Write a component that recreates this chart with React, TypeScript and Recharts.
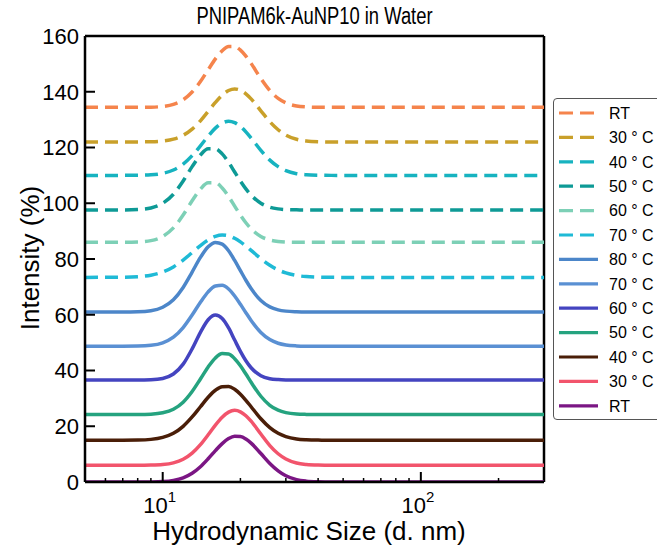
import React from "react";
import { LineChart, Line, XAxis, YAxis, ReferenceLine } from "recharts";

// hydrodynamic size grid (d. nm)
const sizes = [5, 7, 8, 9, 10, 11, 12, 13, 14, 15, 16, 17, 18, 19, 20, 21, 22, 24, 26, 28, 30, 33, 36, 40, 45, 50, 300];

// intensity (%) per run (before vertical offset)
const rtDash = [0, 0, 0.01, 0.07, 0.33, 1.08, 2.73, 5.52, 9.26, 13.49, 17.4, 20.29, 21.81, 21.81, 20.55, 18.4, 15.78, 10.35, 6.03, 3.24, 1.62, 0.52, 0.16, 0.03, 0, 0, 0];
const c30Dash = [0, 0, 0.01, 0.08, 0.33, 0.99, 2.37, 4.6, 7.56, 10.94, 14.17, 16.77, 18.43, 19.0, 18.53, 17.25, 15.45, 11.17, 7.25, 4.37, 2.47, 0.95, 0.35, 0.08, 0, 0, 0];
const c40Dash = [0, 0, 0.04, 0.2, 0.73, 1.92, 4.05, 7.08, 10.59, 14.08, 16.95, 18.76, 19.4, 18.89, 17.53, 15.6, 13.4, 8.99, 5.48, 3.13, 1.69, 0.61, 0.22, 0.05, 0, 0, 0];
const c50Dash = [0, 0.01, 0.14, 0.71, 2.39, 5.64, 10.38, 15.54, 19.7, 21.93, 21.93, 20.11, 17.1, 13.61, 10.38, 7.57, 5.33, 2.39, 0.97, 0.38, 0.14, 0.03, 0, 0, 0, 0, 0];
const c60Dash = [0, 0.01, 0.11, 0.59, 2.1, 5.15, 9.75, 14.87, 19.06, 21.32, 21.32, 19.48, 16.44, 12.96, 9.75, 7.01, 4.86, 2.1, 0.82, 0.3, 0.11, 0.02, 0, 0, 0, 0, 0];
const c70Dash = [0, 0.05, 0.25, 0.8, 1.95, 3.77, 6.2, 8.9, 11.42, 13.44, 14.72, 15.2, 14.93, 14.03, 12.76, 11.27, 9.7, 6.72, 4.34, 2.69, 1.6, 0.69, 0.29, 0.09, 0.02, 0, 0];
const c80 = [0, 0.01, 0.08, 0.45, 1.69, 4.38, 8.81, 14.32, 19.57, 23.37, 24.96, 24.33, 21.94, 18.48, 14.83, 11.37, 8.39, 4.11, 1.82, 0.76, 0.3, 0.07, 0, 0, 0, 0, 0];
const c70 = [0, 0.01, 0.06, 0.33, 1.23, 3.24, 6.69, 11.19, 15.78, 19.52, 21.63, 21.89, 20.55, 18.04, 15.07, 12.04, 9.26, 4.94, 2.38, 1.08, 0.46, 0.12, 0.02, 0, 0, 0, 0];
const c60 = [0, 0, 0, 0.09, 0.56, 2.13, 5.68, 11.16, 17.1, 21.62, 23.3, 22.04, 18.66, 14.32, 10.27, 6.9, 4.39, 1.53, 0.46, 0.13, 0.03, 0, 0, 0, 0, 0, 0];
const c50 = [0, 0, 0.02, 0.14, 0.63, 1.91, 4.44, 8.26, 12.76, 17.09, 20.31, 21.86, 21.7, 20.03, 17.49, 14.53, 11.58, 6.56, 3.32, 1.56, 0.69, 0.18, 0.05, 0, 0, 0, 0];
const c40 = [0, 0.01, 0.06, 0.29, 0.99, 2.47, 4.97, 8.33, 12.0, 15.4, 17.91, 19.21, 19.28, 18.25, 16.49, 14.31, 12.0, 7.69, 4.5, 2.47, 1.29, 0.44, 0.15, 0.03, 0, 0, 0];
const c30 = [0, 0, 0, 0.06, 0.26, 0.86, 2.15, 4.36, 7.39, 10.94, 14.43, 17.24, 19.08, 19.7, 19.18, 17.78, 15.81, 11.2, 7.07, 4.13, 2.25, 0.81, 0.28, 0.06, 0, 0, 0];
const rt = [0, 0, 0, 0.04, 0.17, 0.58, 1.5, 3.14, 5.49, 8.34, 11.26, 13.78, 15.59, 16.44, 16.32, 15.42, 13.96, 10.22, 6.66, 4.0, 2.23, 0.84, 0.3, 0.07, 0, 0, 0];

const curves = [rtDash, c30Dash, c40Dash, c50Dash, c60Dash, c70Dash, c80, c70, c60, c50, c40, c30, rt];
const labels = ["RT", "30 ° C", "40 ° C", "50 ° C", "60 ° C", "70 ° C", "80 ° C", "70 ° C", "60 ° C", "50 ° C", "40 ° C", "30 ° C", "RT"];
const offsets = [134.4, 122, 110, 97.6, 86, 73.4, 61, 48.7, 36.6, 24.2, 15, 6, 0];
const colors = ["#f5844c", "#c9a02a", "#17b3c0", "#0e9a96", "#7dd0b6", "#1fbad6", "#4c86c9", "#5a90d3", "#4444c0", "#25a37f", "#4a1e08", "#f2546c", "#7b1684"];
const dashed = [true, true, true, true, true, true, false, false, false, false, false, false, false];

const xTicks = [6, 7, 8, 9, 10, 20, 30, 40, 50, 60, 70, 80, 90, 100, 200];
const yTicks = [0, 20, 40, 60, 80, 100, 120, 140, 160];

const data = sizes.map((s, i) => {
  const row: any = { size: s };
  curves.forEach((c, k) => {
    row["c" + k] = +(c[i] + offsets[k]).toFixed(2);
  });
  return row;
});

const FONT = "'Liberation Sans', Arial, sans-serif";

function XTick(props: any) {
  const { x, y, payload } = props;
  const v = payload.value;
  const major = v === 10 || v === 100;
  return (
    <g>
      <line x1={x} x2={x} y1={y} y2={y - (major ? 10 : 4)} stroke="#000" strokeWidth={major ? 2 : 1.5} />
      {major && (
        <text x={x - 3} y={y + 31} textAnchor="middle" fontSize={22} fontFamily={FONT} fill="#000">
          10
          <tspan dy={-11} fontSize={15}>{v === 10 ? "1" : "2"}</tspan>
        </text>
      )}
    </g>
  );
}

function YTick(props: any) {
  const { x, y, payload } = props;
  return (
    <g>
      <line x1={x} x2={x + 10} y1={y} y2={y} stroke="#000" strokeWidth={2} />
      <text x={x - 6} y={y} dy="0.36em" textAnchor="end" fontSize={22} fontFamily={FONT} fill="#000">
        {payload.value}
      </text>
    </g>
  );
}

function LegendBox() {
  const rowH = 24.4;
  return (
    <div
      style={{
        position: "absolute",
        left: 553,
        top: 98,
        width: 120,
        height: 320,
        border: "1.5px solid #555",
        borderRadius: 4,
        background: "#fff",
      }}
    >
      <svg width={120} height={320}>
        {labels.map((lab, k) => {
          const cy = 14 + k * rowH;
          return (
            <g key={k}>
              <line
                x1={5}
                x2={44}
                y1={cy}
                y2={cy}
                stroke={colors[k]}
                strokeWidth={3.2}
                strokeDasharray={dashed[k] ? "14 7" : undefined}
              />
              <text x={55} y={cy} dy="0.36em" fontSize={16} fontFamily={FONT} fill="#000">
                {lab}
              </text>
            </g>
          );
        })}
      </svg>
    </div>
  );
}

export default function App() {
  return (
    <div style={{ position: "absolute", left: 0, top: 0, width: 657, height: 546, fontFamily: FONT, background: "#fff", overflow: "hidden" }}>
      <div
        style={{
          position: "absolute",
          left: 85,
          top: 2,
          width: 459,
          textAlign: "center",
          fontSize: 23,
          lineHeight: "28px",
          color: "#000",
          transform: "scaleX(0.8)",
        }}
      >
        PNIPAM6k-AuNP10 in Water
      </div>
      <LineChart width={657} height={546} data={data} margin={{ top: 36, right: 113, left: 0, bottom: 0 }}>
        <XAxis
          dataKey="size"
          type="number"
          scale="log"
          domain={[5, 300]}
          allowDataOverflow
          ticks={xTicks}
          interval={0}
          tick={<XTick />}
          tickLine={false}
          tickSize={0}
          tickMargin={0}
          height={64}
          axisLine={{ stroke: "#000", strokeWidth: 2.5 }}
        />
        <YAxis
          type="number"
          domain={[0, 160]}
          ticks={yTicks}
          interval={0}
          tick={<YTick />}
          tickLine={false}
          tickSize={0}
          tickMargin={0}
          width={85}
          allowDataOverflow
          axisLine={{ stroke: "#000", strokeWidth: 2.5 }}
        />
        <ReferenceLine y={160} stroke="#000" strokeWidth={2.5} />
        <ReferenceLine x={300} stroke="#000" strokeWidth={2.5} />
        {curves.map((_, k) => (
          <Line
            key={k}
            type="monotone"
            dataKey={"c" + k}
            stroke={colors[k]}
            strokeWidth={3.5}
            strokeDasharray={dashed[k] ? "13 7" : undefined}
            dot={false}
            isAnimationActive={false}
          />
        ))}
      </LineChart>
      <div
        style={{
          position: "absolute",
          left: 109,
          top: 519,
          width: 400,
          textAlign: "center",
          fontSize: 26,
          lineHeight: "24px",
          color: "#000",
        }}
      >
        Hydrodynamic Size (d. nm)
      </div>
      <div
        style={{
          position: "absolute",
          left: 30,
          top: 258,
          transform: "translate(-50%, -50%) rotate(-90deg)",
          whiteSpace: "nowrap",
          fontSize: 26,
          lineHeight: "26px",
          color: "#000",
        }}
      >
        Intensity (%)
      </div>
      <LegendBox />
    </div>
  );
}
